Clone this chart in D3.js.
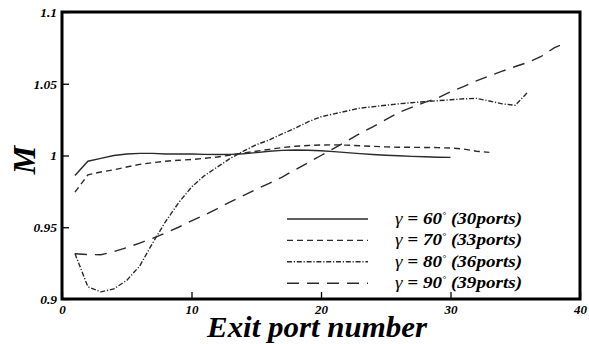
<!DOCTYPE html>
<html>
<head>
<meta charset="utf-8">
<script src="https://cdn.jsdelivr.net/npm/d3@7"></script>
<style>
  html, body { margin: 0; padding: 0; background: #fff; }
  svg { display: block; }
  text { font-family: "Liberation Serif", "Times New Roman", serif; font-weight: bold; font-style: italic; fill: #000; }
</style>
</head>
<body>
<svg id="chart" width="589" height="344"></svg>
<script>
// Mass-flow ratio M at each exit port, for four inclination angles
const m60 = [0.986, 0.996, 0.998, 1.000, 1.001, 1.0015, 1.0015, 1.001, 1.001, 1.001,
             1.0008, 1.0007, 1.0008, 1.0012, 1.002, 1.003, 1.0036, 1.0038, 1.0037, 1.0033,
             1.0027, 1.002, 1.0013, 1.0007, 1.0002, 0.9998, 0.9994, 0.9991, 0.9988, 0.9987];
const m70 = [0.9745, 0.9865, 0.9885, 0.990, 0.992, 0.9938, 0.995, 0.996, 0.9967, 0.9972,
             0.998, 0.999, 1.0003, 1.0017, 1.003, 1.0043, 1.0055, 1.0064, 1.007, 1.0073,
             1.0074, 1.0072, 1.0068, 1.0064, 1.006, 1.0058, 1.0057, 1.0056, 1.0055, 1.0052,
             1.0045, 1.003, 1.0022];
const m80 = [0.9317, 0.9085, 0.905, 0.907, 0.913, 0.923, 0.939, 0.954, 0.967, 0.978,
             0.986, 0.992, 0.998, 1.003, 1.0075, 1.0108, 1.015, 1.019, 1.0235, 1.027,
             1.029, 1.031, 1.033, 1.034, 1.035, 1.036, 1.0368, 1.0375, 1.0382, 1.0388,
             1.0395, 1.0398, 1.038, 1.036, 1.035, 1.0444];
const m90 = [0.9315, 0.931, 0.9308, 0.933, 0.9358, 0.939, 0.9423, 0.946, 0.950, 0.9545,
             0.9585, 0.963, 0.9677, 0.972, 0.9765, 0.9805, 0.985, 0.990, 0.995, 1.000,
             1.005, 1.010, 1.0154, 1.020, 1.025, 1.030, 1.0335, 1.037, 1.040, 1.0445,
             1.048, 1.052, 1.0555, 1.0588, 1.062, 1.065, 1.069, 1.075, 1.079];

const angles = ["60", "70", "80", "90"];
const portCounts = ["30ports", "33ports", "36ports", "39ports"];
const xTicks = [0, 10, 20, 30, 40];
const yTicks = [0.9, 0.95, 1, 1.05, 1.1];
const yTickLabels = ["0.9", "0.95", "1", "1.05", "1.1"];

const series = [m60, m70, m80, m90];
const dashes = ["none", "6,4", "5,1.8,1.2,1.8", "12,8"];

const svg = d3.select("#chart");
const margin = { left: 62, top: 12, right: 9, bottom: 45 };
const W = 589, H = 344;

const x = d3.scaleLinear().domain([0, 40]).range([margin.left, W - margin.right]);
const y = d3.scaleLinear().domain([0.9, 1.1]).range([H - margin.bottom, margin.top]);

// curves
const line = d3.line()
  .x((d, i) => x(i + 1))
  .y(d => y(d));

series.forEach((s, k) => {
  svg.append("path")
    .datum(s)
    .attr("d", line)
    .attr("fill", "none")
    .attr("stroke", "#2a2a2a")
    .attr("stroke-width", 1.4)
    .attr("stroke-dasharray", dashes[k]);
});

// inward ticks with labels
const gx = svg.append("g").attr("transform", `translate(0,${y(0.9)})`)
  .call(d3.axisBottom(x).tickValues(xTicks).tickSize(-7).tickPadding(3).tickFormat(d3.format("d")));
gx.select(".domain").remove();
gx.selectAll("line").attr("stroke", "#000").attr("stroke-width", 1.3);
gx.selectAll("text").attr("font-size", 13).attr("dy", "0.95em")
  .style("font-family", "'Liberation Serif', serif");

const gy = svg.append("g").attr("transform", `translate(${x(0)},0)`)
  .call(d3.axisLeft(y).tickValues(yTicks).tickSize(-7).tickPadding(5)
    .tickFormat((d, i) => yTickLabels[i]));
gy.select(".domain").remove();
gy.selectAll("line").attr("stroke", "#000").attr("stroke-width", 1.3);
gy.selectAll("text").attr("font-size", 13.5)
  .style("font-family", "'Liberation Serif', serif");

// frame
svg.append("rect")
  .attr("x", x(0)).attr("y", y(1.1))
  .attr("width", x(40) - x(0)).attr("height", y(0.9) - y(1.1))
  .attr("fill", "none").attr("stroke", "#000").attr("stroke-width", 3);

// axis titles
svg.append("text")
  .attr("x", 317).attr("y", 337)
  .attr("text-anchor", "middle")
  .attr("font-size", 30)
  .attr("textLength", 220).attr("lengthAdjust", "spacingAndGlyphs")
  .text("Exit port number");

svg.append("text")
  .attr("transform", "translate(35,160) rotate(-90)")
  .attr("text-anchor", "middle")
  .attr("font-size", 32)
  .text("M");

// legend
const legY0 = 219, legStep = 21.4;
const leg = svg.append("g");
angles.forEach((a, k) => {
  const yy = legY0 + k * legStep;
  leg.append("line")
    .attr("x1", 287).attr("x2", 368).attr("y1", yy).attr("y2", yy)
    .attr("stroke", "#2a2a2a").attr("stroke-width", 1.4)
    .attr("stroke-dasharray", dashes[k]);
  const t = leg.append("text").attr("x", 395).attr("y", yy + 5).attr("font-size", 16.5)
    .attr("textLength", 127).attr("lengthAdjust", "spacingAndGlyphs");
  t.append("tspan").attr("font-weight", "normal").text("γ");
  t.append("tspan").text(" = " + a);
  t.append("tspan").attr("font-size", 9).attr("dy", -6).attr("font-weight", "normal").text("°");
  t.append("tspan").attr("dy", 6).text(" (" + portCounts[k] + ")");
});
</script>
</body>
</html>
